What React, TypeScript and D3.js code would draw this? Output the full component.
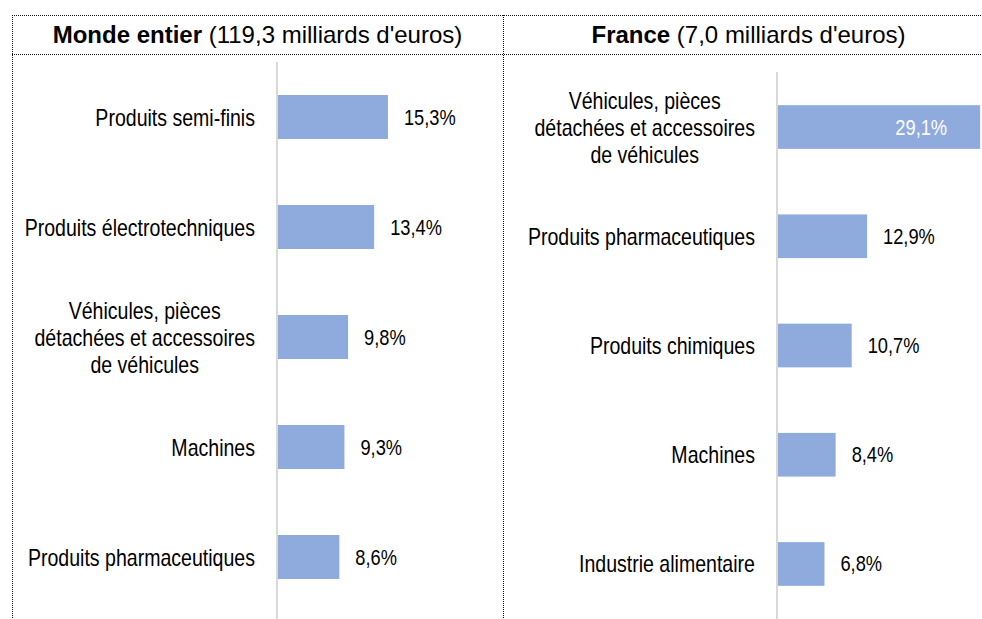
import { useEffect, useRef } from "react";
import * as d3 from "d3";

// data
const mondeCategories = [
  "Produits semi-finis",
  "Produits électrotechniques",
  "Véhicules, pièces\ndétachées et accessoires\nde véhicules",
  "Machines",
  "Produits pharmaceutiques",
];
const mondeValues = [15.3, 13.4, 9.8, 9.3, 8.6];

const franceCategories = [
  "Véhicules, pièces\ndétachées et accessoires\nde véhicules",
  "Produits pharmaceutiques",
  "Produits chimiques",
  "Machines",
  "Industrie alimentaire",
];
const franceValues = [29.1, 12.9, 10.7, 8.4, 6.8];

const headers = [
  { bold: "Monde entier", rest: " (119,3 milliards d'euros)" },
  { bold: "France", rest: " (7,0 milliards d'euros)" },
];

const W = 982;
const H = 619;
const FONT = "'Liberation Sans', Arial, sans-serif";
const BAR = "#8faadc";
const SX = 0.85;

const fmt = (v: number) => v.toFixed(1).replace(".", ",") + "%";

export default function App() {
  const ref = useRef<SVGSVGElement>(null);

  useEffect(() => {
    if (!ref.current) return;
    const svg = d3.select(ref.current);
    svg.selectAll("*").remove();

    // table borders (dotted)
    const grid = svg.append("g").attr("stroke", "#111").attr("stroke-dasharray", "1,1").attr("stroke-width", 1);
    grid.append("line").attr("x1", 12).attr("x2", W).attr("y1", 15.5).attr("y2", 15.5);
    grid.append("line").attr("x1", 12).attr("x2", W).attr("y1", 54.5).attr("y2", 54.5);
    [12.5, 503.5].forEach((x) => grid.append("line").attr("x1", x).attr("x2", x).attr("y1", 15).attr("y2", H));

    // headers
    [257.5, 748.5].forEach((cx, i) => {
      const t = svg
        .append("text")
        .attr("x", cx)
        .attr("y", 43)
        .attr("text-anchor", "middle")
        .attr("font-family", FONT)
        .attr("font-size", 24)
        .attr("fill", "#000");
      t.append("tspan").attr("font-weight", "bold").text(headers[i].bold);
      t.append("tspan").text(headers[i].rest);
    });

    const panels = [
      { cats: mondeCategories, vals: mondeValues, axisX: 277, top: 62, yRange: [62, 612], xDom: 20, xLen: 145 },
      { cats: franceCategories, vals: franceValues, axisX: 777, top: 72, yRange: [72.4, 618.6], xDom: 30, xLen: 209.4 },
    ];

    panels.forEach((p) => {
      const x = d3.scaleLinear().domain([0, p.xDom]).range([p.axisX, p.axisX + p.xLen]);
      const y = d3
        .scaleBand<string>()
        .domain(p.cats)
        .range(p.yRange as [number, number])
        .paddingInner(0.6)
        .paddingOuter(0.3);

      const g = svg.append("g");

      // bars
      g.selectAll("rect")
        .data(p.vals)
        .join("rect")
        .attr("x", x(0))
        .attr("y", (_d, i) => y(p.cats[i])!)
        .attr("width", (d) => x(d) - x(0))
        .attr("height", y.bandwidth())
        .attr("fill", BAR);

      // axis line
      g.append("line")
        .attr("x1", p.axisX)
        .attr("x2", p.axisX)
        .attr("y1", p.top)
        .attr("y2", H)
        .attr("stroke", "#d9d9d9")
        .attr("stroke-width", 2);

      // value labels
      p.vals.forEach((v, i) => {
        const cy = y(p.cats[i])! + y.bandwidth() / 2;
        const end = x(v);
        const inside = end + 60 > W;
        g.append("text")
          .attr("transform", `translate(${inside ? end - 33 : end + 16},${cy + 7.5}) scale(${SX},1)`)
          .attr("text-anchor", inside ? "end" : "start")
          .attr("font-family", FONT)
          .attr("font-size", 21.5)
          .attr("fill", inside ? "#fff" : "#000")
          .text(fmt(v));
      });

      // category labels (block right-aligned, lines centred)
      p.cats.forEach((c, i) => {
        const cy = y(c)! + y.bandwidth() / 2;
        const lines = c.split("\n");
        const right = p.axisX - 22;
        const lg = g.append("g");
        const nodes = lines.map((ln) =>
          lg
            .append("text")
            .attr("font-family", FONT)
            .attr("font-size", 23)
            .attr("fill", "#000")
            .attr("text-anchor", "middle")
            .text(ln)
        );
        const maxW = d3.max(nodes, (n) => (n.node() as SVGTextElement).getComputedTextLength() * SX) || 0;
        const cx = right - maxW / 2;
        const n = lines.length;
        nodes.forEach((n2, k) => {
          const by = cy + 8.5 + (k - (n - 1) / 2) * 27;
          n2.attr("transform", `translate(${cx},${by}) scale(${SX},1)`);
        });
      });
    });
  }, []);

  return (
    <div style={{ position: "absolute", left: 0, top: 0 }}>
      <svg ref={ref} width={W} height={H} style={{ display: "block", background: "#fff" }} />
    </div>
  );
}
